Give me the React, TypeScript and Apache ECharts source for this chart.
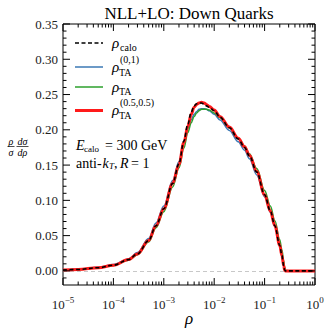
import React, { useEffect, useRef } from "react";
import * as echarts from "echarts";

// rho values (x, log axis)
const rho = [
  1e-5, 2e-5, 5e-5, 1e-4, 2e-4, 3e-4, 5e-4, 7e-4, 1e-3, 1.5e-3, 2e-3, 2.5e-3,
  3e-3, 3.5e-3, 4e-3, 4.5e-3, 5e-3, 5.6e-3, 6.3e-3, 7e-3, 8e-3, 1e-2, 1.3e-2,
  2e-2, 3e-2, 4e-2, 5e-2, 7e-2, 0.1, 0.13, 0.16, 0.2, 0.22, 0.24, 0.25, 0.26,
  0.3, 0.5, 1,
];
const rhoCalo = [
  0.0012, 0.002, 0.0045, 0.008, 0.016, 0.024, 0.043, 0.064, 0.088, 0.124, 0.152,
  0.184, 0.208, 0.225, 0.234, 0.237, 0.238, 0.238, 0.236, 0.234, 0.232, 0.227,
  0.218, 0.203, 0.187, 0.175, 0.163, 0.14, 0.108, 0.085, 0.064, 0.036, 0.022,
  0.007, 0.001, 0, 0, 0, 0,
];
const rhoTA01 = [
  0.0013, 0.0022, 0.005, 0.009, 0.017, 0.026, 0.046, 0.068, 0.092, 0.128, 0.155,
  0.182, 0.202, 0.214, 0.222, 0.226, 0.229, 0.23, 0.23, 0.229, 0.227, 0.222,
  0.214, 0.199, 0.183, 0.171, 0.159, 0.136, 0.105, 0.083, 0.063, 0.037, 0.024,
  0.01, 0.003, 0, 0, 0, 0,
];
const rhoTA = [
  0.0012, 0.002, 0.0044, 0.0078, 0.015, 0.023, 0.041, 0.061, 0.084, 0.119, 0.146,
  0.174, 0.196, 0.21, 0.219, 0.224, 0.227, 0.229, 0.229, 0.229, 0.228, 0.224,
  0.217, 0.203, 0.188, 0.177, 0.166, 0.145, 0.114, 0.092, 0.071, 0.044, 0.03,
  0.014, 0.005, 0.001, 0, 0, 0,
];
const rhoTA55 = [
  0.0012, 0.002, 0.0045, 0.008, 0.016, 0.024, 0.043, 0.064, 0.088, 0.124, 0.151,
  0.182, 0.205, 0.222, 0.232, 0.236, 0.238, 0.239, 0.238, 0.236, 0.233, 0.228,
  0.219, 0.204, 0.188, 0.176, 0.164, 0.141, 0.108, 0.085, 0.064, 0.036, 0.022,
  0.007, 0.001, 0, 0, 0, 0,
];

const xMajorTicks = [1e-5, 1e-4, 1e-3, 1e-2, 1e-1, 1];
const xMinorTicks = [
  2e-5, 3e-5, 4e-5, 5e-5, 6e-5, 7e-5, 8e-5, 9e-5,
  2e-4, 3e-4, 4e-4, 5e-4, 6e-4, 7e-4, 8e-4, 9e-4,
  2e-3, 3e-3, 4e-3, 5e-3, 6e-3, 7e-3, 8e-3, 9e-3,
  2e-2, 3e-2, 4e-2, 5e-2, 6e-2, 7e-2, 8e-2, 9e-2,
  0.2, 0.3, 0.4, 0.5, 0.6, 0.7, 0.8, 0.9,
];
const yMajorTicks = [0, 0.05, 0.1, 0.15, 0.2, 0.25, 0.3, 0.35];
const yMinorTicks = [
  -0.01, 0.01, 0.02, 0.03, 0.04, 0.06, 0.07, 0.08, 0.09, 0.11, 0.12, 0.13, 0.14,
  0.16, 0.17, 0.18, 0.19, 0.21, 0.22, 0.23, 0.24, 0.26, 0.27, 0.28, 0.29, 0.31,
  0.32, 0.33, 0.34,
];

const X_MIN = 1e-5;
const X_MAX = 1;
const Y_MIN = -0.02;
const Y_MAX = 0.35;
const SERIF = '"Liberation Serif", "DejaVu Serif", serif';

const COLORS = {
  calo: "#000000",
  ta01: "#3b78b4",
  ta: "#2ca02c",
  ta55: "#ff1a1a",
};

function txt(text: string, x: number, y: number, size: number, opts: any = {}) {
  return {
    type: "text",
    x,
    y,
    silent: true,
    style: {
      text,
      fontSize: size,
      fontFamily: SERIF,
      fontStyle: opts.italic ? "italic" : "normal",
      fill: "#000",
      textAlign: opts.align || "left",
      align: opts.align || "left",
      textVerticalAlign: "middle",
      verticalAlign: "middle",
    },
  };
}

export default function App() {
  const ref = useRef<HTMLDivElement>(null);

  useEffect(() => {
    if (!ref.current) return;
    const chart = echarts.init(ref.current, undefined, { renderer: "svg" });

    const tickData: number[][] = [];
    xMajorTicks.forEach((v) => tickData.push([v, 0, 0]));
    xMinorTicks.forEach((v) => tickData.push([v, 0, 1]));
    yMajorTicks.forEach((v) => tickData.push([1e-3, v, 2]));
    yMinorTicks.forEach((v) => tickData.push([1e-3, v, 3]));

    const mk = (ys: number[]) => rho.map((r, i) => [r, ys[i]]);

    const supMap: Record<string, string> = { "-": "−" };

    const lineBase = {
      type: "line",
      showSymbol: false,
      smooth: 0.35,
      smoothMonotone: "x",
    };

    const option: any = {
      animation: false,
      grid: {
        left: 63,
        right: 17,
        top: 24,
        bottom: 47,
        show: true,
        borderColor: "#000",
        borderWidth: 1,
        backgroundColor: "transparent",
      },
      xAxis: {
        type: "log",
        logBase: 10,
        min: X_MIN,
        max: X_MAX,
        splitNumber: 5,
        axisLine: { show: false },
        axisTick: { show: false },
        splitLine: { show: false },
        minorTick: { show: false },
        axisLabel: {
          margin: 10,
          color: "#222",
          formatter: (v: number) => {
            const e = Math.round(Math.log10(v));
            const s = String(e).split("").map((c) => supMap[c] || c).join("");
            return "{b|10}{s|" + s + "}";
          },
          rich: {
            b: { fontSize: 13, fontFamily: SERIF, color: "#222", lineHeight: 16, verticalAlign: "bottom" },
            s: { fontSize: 9, fontFamily: SERIF, color: "#222", lineHeight: 16, verticalAlign: "top" },
          },
        },
      },
      yAxis: {
        type: "value",
        min: Y_MIN,
        max: Y_MAX,
        interval: 0.01,
        axisLine: { show: false },
        axisTick: { show: false },
        splitLine: { show: false },
        axisLabel: {
          margin: 5,
          fontSize: 13,
          fontFamily: SERIF,
          color: "#222",
          formatter: (v: number) => {
            const k = Math.round(v * 100);
            if (k < 0 || k % 5 !== 0) return "";
            return (k / 100).toFixed(2);
          },
        },
      },
      series: [
        {
          ...lineBase,
          name: "ta01",
          data: mk(rhoTA01),
          lineStyle: { color: COLORS.ta01, width: 1.5 },
          z: 2,
        },
        {
          ...lineBase,
          name: "ta",
          data: mk(rhoTA),
          lineStyle: { color: COLORS.ta, width: 1.5 },
          z: 3,
        },
        {
          ...lineBase,
          name: "ta55",
          data: mk(rhoTA55),
          lineStyle: { color: COLORS.ta55, width: 3 },
          z: 4,
          markLine: {
            silent: true,
            symbol: "none",
            label: { show: false },
            lineStyle: { color: "#c8c8c8", type: [4, 3], width: 1 },
            data: [{ yAxis: 0 }],
            z: 1,
          },
        },
        {
          ...lineBase,
          name: "calo",
          data: mk(rhoCalo),
          lineStyle: { color: COLORS.calo, width: 1.6, type: [4, 2.5] },
          z: 5,
        },
        {
          type: "custom",
          silent: true,
          clip: false,
          z: 10,
          encode: { x: 0, y: 1 },
          data: tickData,
          renderItem: (params: any, api: any) => {
            const kind = api.value(2);
            const st = { stroke: "#000", lineWidth: 1 };
            if (kind < 2) {
              const v = api.value(0);
              const b = api.coord([v, Y_MIN]);
              const t = api.coord([v, Y_MAX]);
              const len = kind === 0 ? 7 : 3.5;
              return {
                type: "group",
                children: [
                  { type: "line", shape: { x1: b[0], y1: b[1], x2: b[0], y2: b[1] - len }, style: st },
                  { type: "line", shape: { x1: t[0], y1: t[1], x2: t[0], y2: t[1] + len }, style: st },
                ],
              };
            }
            const v = api.value(1);
            const l = api.coord([X_MIN, v]);
            const r = api.coord([X_MAX, v]);
            const len = kind === 2 ? 7 : 3.5;
            return {
              type: "group",
              children: [
                { type: "line", shape: { x1: l[0], y1: l[1], x2: l[0] + len, y2: l[1] }, style: st },
                { type: "line", shape: { x1: r[0], y1: r[1], x2: r[0] - len, y2: r[1] }, style: st },
              ],
            };
          },
        },
      ],
      graphic: [
        // title
        txt("NLL+LO: Down Quarks", 189, 13, 17, { align: "center" }),
        // x axis title
        txt("ρ", 189, 318, 17, { italic: true, align: "center" }),
        // y axis title (fraction)
        txt("ρ", 11, 141, 10, { italic: true, align: "center" }),
        txt("σ", 11, 152, 10, { italic: true, align: "center" }),
        { type: "line", silent: true, shape: { x1: 7.5, y1: 146.5, x2: 14.5, y2: 146.5 }, style: { stroke: "#000", lineWidth: 0.7 } },
        txt("dσ", 22.5, 141, 10, { italic: true, align: "center" }),
        txt("dρ", 22.5, 152, 10, { italic: true, align: "center" }),
        { type: "line", silent: true, shape: { x1: 16.5, y1: 146.5, x2: 28.5, y2: 146.5 }, style: { stroke: "#000", lineWidth: 0.7 } },
        // legend
        { type: "line", silent: true, shape: { x1: 75, y1: 43, x2: 103, y2: 43 }, style: { stroke: COLORS.calo, lineWidth: 1.6, lineDash: [4, 2.5] } },
        txt("ρ", 112, 43, 15, { italic: true }),
        txt("calo", 120, 47, 10),
        { type: "line", silent: true, shape: { x1: 75, y1: 67, x2: 103, y2: 67 }, style: { stroke: COLORS.ta01, lineWidth: 1.5 } },
        txt("ρ", 112, 67, 15, { italic: true }),
        txt("TA", 119, 72, 10),
        txt("(0,1)", 120, 59, 10),
        { type: "line", silent: true, shape: { x1: 75, y1: 87, x2: 103, y2: 87 }, style: { stroke: COLORS.ta, lineWidth: 1.5 } },
        txt("ρ", 112, 87, 15, { italic: true }),
        txt("TA", 119, 91, 10),
        { type: "line", silent: true, shape: { x1: 75, y1: 110.5, x2: 103, y2: 110.5 }, style: { stroke: COLORS.ta55, lineWidth: 3 } },
        txt("ρ", 112, 110, 15, { italic: true }),
        txt("TA", 119, 115, 10),
        txt("(0.5,0.5)", 120, 102, 10),
        // annotation
        txt("E", 76, 145, 14, { italic: true }),
        txt("calo", 84, 149, 9),
        txt("= 300 GeV", 105, 145, 14),
        txt("anti-", 76, 163, 14),
        txt("k", 102.5, 163, 14, { italic: true }),
        txt("T", 109, 166, 9, { italic: true }),
        txt(",", 114, 163, 14),
        txt("R", 120, 163, 14, { italic: true }),
        txt("= 1", 131, 163, 14),
      ],
    };

    chart.setOption(option);
    return () => chart.dispose();
  }, []);

  return (
    <div
      ref={ref}
      style={{ width: 332, height: 332, position: "absolute", left: 0, top: 0 }}
    />
  );
}
